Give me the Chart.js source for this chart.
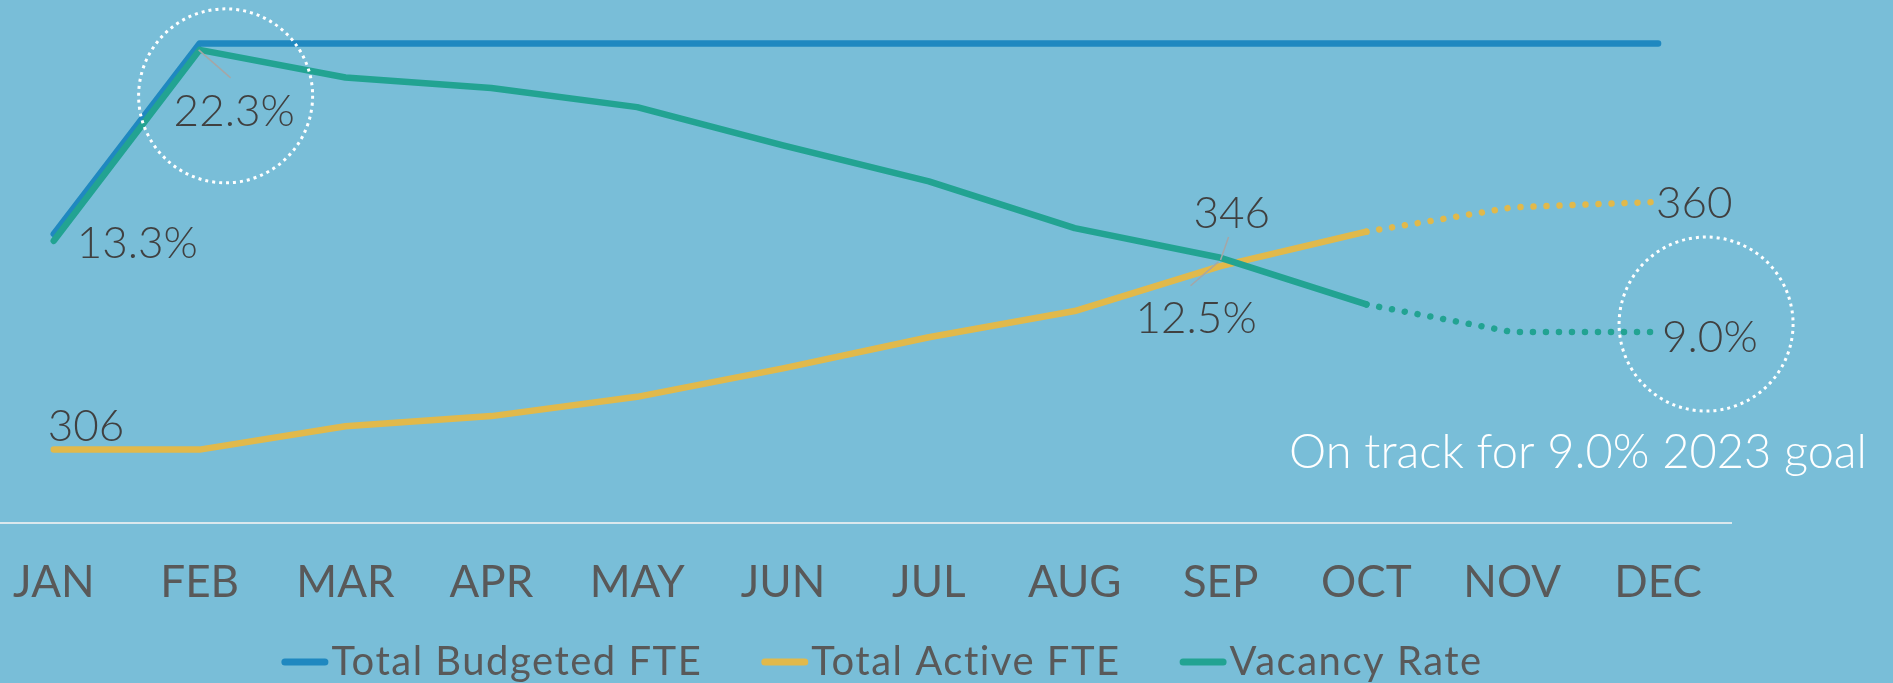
<!DOCTYPE html>
<html>
<head>
<meta charset="utf-8">
<script src="https://cdn.jsdelivr.net/npm/chart.js@4.4.0/dist/chart.umd.min.js"></script>
<style>
  html, body { margin: 0; padding: 0; background: #79bed8; overflow: hidden; }
  /* chart area starts a little left of the page edge so JAN sits near the border */
  #wrap { position: absolute; left: -20px; top: 0; width: 1913px; height: 683px; }
</style>
</head>
<body>
<div id="wrap"><canvas id="fteChart"></canvas></div>
<script>
/* --------------------------------------------
   Data
-------------------------------------------- */
const months = ["JAN", "FEB", "MAR", "APR", "MAY", "JUN", "JUL", "AUG", "SEP", "OCT", "NOV", "DEC"];
const budgetedFte = [353, 394.5, 394.5, 394.5, 394.5, 394.5, 394.5, 394.5, 394.5, 394.5, 394.5, 394.5];
const activeFte = [306, 306, 311.1, 313.3, 317.5, 323.7, 330.5, 336.2, 346, 353.5, 358.8, 360];
const vacancyRate = [13.3, 22.3, 21.0, 20.5, 19.6, 17.8, 16.1, 13.9, 12.5, 10.3, 9.0, 9.0];
const forecastFrom = 9; // OCT onwards is projected
const goalText = "On track for 9.0% 2023 goal";

const FONT = "Lato, 'Open Sans', sans-serif";
const COLORS = {
  budget: "#1f88c0",
  active: "#e1b94b",
  vacancy: "#22a392",
  label: "#404040",
  tick: "#595959",
  leader: "#a6a6a6",
};

/* --------------------------------------------
   Utils
-------------------------------------------- */
const fmtPct = (v) => `${v.toFixed(1)}%`;
const fmtFte = (v) => `${Math.round(v)}`;

// projected part of a series is drawn dotted
const dottedForecast = {
  borderDash: (ctx) => (ctx.p0DataIndex >= forecastFrom ? [0.01, 13] : undefined),
};

/* --------------------------------------------
   Value labels, call-out circles, goal note, legend
-------------------------------------------- */
// dataset index, point index, text offset from the point, optional leader line
const valueLabels = [
  { ds: 2, i: 0, dx: 23, dy: 17, fmt: fmtPct },
  { ds: 2, i: 1, dx: -26, dy: 76, fmt: fmtPct, leader: [-1, 0, 31, 28] },
  { ds: 2, i: 8, dx: -85, dy: 75, fmt: fmtPct, leader: [-2, 4, -30, 28] },
  { ds: 2, i: 11, dx: 4, dy: 20, fmt: fmtPct },
  { ds: 1, i: 0, dx: -6, dy: -9, fmt: fmtFte },
  { ds: 1, i: 8, dx: -27, dy: -38, fmt: fmtFte, leader: [8, -29, 0, -6] },
  { ds: 1, i: 11, dx: -2, dy: 16, fmt: fmtFte },
];

const callouts = [
  { ds: 2, i: 1, dx: 26, dy: 46, r: 87 },
  { ds: 2, i: 11, dx: 48, dy: -8, r: 87 },
];

const annotations = {
  id: "annotations",
  afterDatasetsDraw(chart) {
    const { ctx } = chart;
    ctx.save();

    // leader lines first, labels on top
    valueLabels.forEach((l) => {
      if (!l.leader) return;
      const p = chart.getDatasetMeta(l.ds).data[l.i];
      ctx.strokeStyle = COLORS.leader;
      ctx.lineWidth = 1.5;
      ctx.beginPath();
      ctx.moveTo(p.x + l.leader[0], p.y + l.leader[1]);
      ctx.lineTo(p.x + l.leader[2], p.y + l.leader[3]);
      ctx.stroke();
    });

    ctx.font = `300 44px ${FONT}`;
    ctx.fillStyle = COLORS.label;
    ctx.textAlign = "left";
    ctx.textBaseline = "alphabetic";
    valueLabels.forEach((l) => {
      const p = chart.getDatasetMeta(l.ds).data[l.i];
      const v = chart.data.datasets[l.ds].data[l.i];
      ctx.fillText(l.fmt(v), p.x + l.dx, p.y + l.dy);
    });

    // dotted white circles
    ctx.strokeStyle = "#ffffff";
    ctx.lineWidth = 3;
    ctx.setLineDash([3, 4]);
    callouts.forEach((c) => {
      const p = chart.getDatasetMeta(c.ds).data[c.i];
      ctx.beginPath();
      ctx.arc(p.x + c.dx, p.y + c.dy, c.r, 0, Math.PI * 2);
      ctx.stroke();
    });
    ctx.setLineDash([]);

    // goal note, right aligned
    ctx.font = `300 47px ${FONT}`;
    ctx.fillStyle = "#ffffff";
    ctx.textAlign = "right";
    ctx.fillText(goalText, 1887, 468);

    // legend: line marker + label, centred under the plot
    ctx.font = `400 40px ${FONT}`;
    ctx.letterSpacing = "1.5px";
    ctx.textAlign = "left";
    const markW = 47, gapText = 3, gapItem = 59;
    const items = chart.data.datasets.map((d) => ({
      text: d.label,
      color: d.borderColor,
      w: markW + gapText + ctx.measureText(d.label).width,
    }));
    const total = items.reduce((s, it) => s + it.w, 0) + gapItem * (items.length - 1);
    let x = 902 - total / 2;
    items.forEach((it) => {
      ctx.strokeStyle = it.color;
      ctx.lineWidth = 7;
      ctx.lineCap = "round";
      ctx.beginPath();
      ctx.moveTo(x + 3.5, 662);
      ctx.lineTo(x + markW - 3.5, 662);
      ctx.stroke();
      ctx.fillStyle = COLORS.tick;
      ctx.fillText(it.text, x + markW + gapText, 675);
      x += it.w + gapItem;
    });

    ctx.restore();
  },
};

/* --------------------------------------------
   Chart
-------------------------------------------- */
const lineStyle = {
  borderWidth: 6.5,
  pointRadius: 0,
  tension: 0,
  fill: false,
  borderCapStyle: "round",
  borderJoinStyle: "round",
};

new Chart(document.getElementById("fteChart"), {
  type: "line",
  data: {
    labels: months,
    datasets: [
      {
        label: "Total Budgeted FTE",
        data: budgetedFte,
        borderColor: COLORS.budget,
        yAxisID: "y",
        order: 3,
        ...lineStyle,
      },
      {
        label: "Total Active FTE",
        data: activeFte,
        borderColor: COLORS.active,
        yAxisID: "y",
        order: 2,
        segment: dottedForecast,
        ...lineStyle,
      },
      {
        label: "Vacancy Rate",
        data: vacancyRate,
        borderColor: COLORS.vacancy,
        yAxisID: "y1",
        order: 1,
        segment: dottedForecast,
        ...lineStyle,
      },
    ],
  },
  options: {
    responsive: true,
    maintainAspectRatio: false,
    animation: false,
    layout: { padding: { left: 0, right: 162, top: 0, bottom: 0 } },
    plugins: {
      legend: { display: false },
      tooltip: { enabled: false },
    },
    scales: {
      x: {
        offset: true,
        grid: { display: false, drawTicks: false },
        border: { display: true, color: "rgba(230,236,240,0.9)", width: 2 },
        ticks: {
          color: COLORS.tick,
          font: { family: FONT, size: 44, weight: "400" },
          padding: 33,
          maxRotation: 0,
          autoSkip: false,
        },
        afterFit: (scale) => {
          scale.height = 160;
        },
      },
      y: { display: false, min: 290, max: 404 },
      y1: { display: false, min: 0, max: 24.65 },
    },
  },
  plugins: [annotations],
});
</script>
</body>
</html>
